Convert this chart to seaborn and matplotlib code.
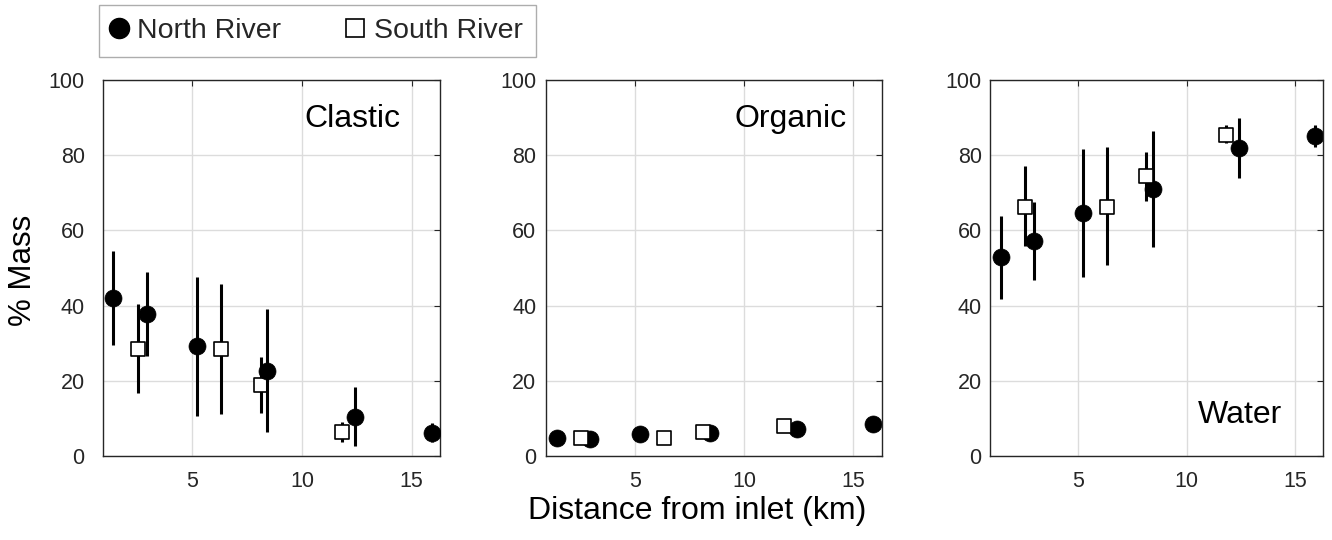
import numpy as np
import pandas as pd
import matplotlib
matplotlib.use("Agg")
import matplotlib.pyplot as plt
from matplotlib.lines import Line2D
import seaborn as sns

# ---------------- data ----------------
north_x = [1.42, 2.95, 5.23, 8.43, 12.42, 15.9]
south_x = [2.53, 6.32, 8.12, 11.82]

clastic_north = [41.9, 37.7, 29.3, 22.6, 10.5, 6.2]
clastic_north_lo = [29.5, 26.7, 10.6, 6.3, 2.7, 3.6]
clastic_north_hi = [54.5, 48.9, 47.7, 39.0, 18.3, 8.7]
clastic_south = [28.5, 28.4, 18.8, 6.3]
clastic_south_lo = [16.7, 11.1, 11.4, 3.6]
clastic_south_hi = [40.3, 45.7, 26.2, 9.1]

organic_north = [4.7, 4.6, 5.85, 6.0, 7.3, 8.5]
organic_south = [4.8, 4.9, 6.5, 8.0]

water_north = [52.8, 57.3, 64.7, 71.0, 82.0, 85.1]
water_north_lo = [41.8, 46.8, 47.7, 55.5, 74.0, 82.1]
water_north_hi = [63.9, 67.6, 81.7, 86.4, 89.8, 88.0]
water_south = [66.3, 66.3, 74.5, 85.5]
water_south_lo = [55.9, 50.8, 67.8, 83.2]
water_south_hi = [77.1, 82.1, 80.9, 88.0]

panel_names = ["Clastic", "Organic", "Water"]
series_names = ["North River", "South River"]
x_ticks = [5, 10, 15]
y_ticks = [0, 20, 40, 60, 80, 100]

# ---------------- style ----------------
sns.set_style("white")
plt.rcParams["font.family"] = ["Liberation Sans", "DejaVu Sans"]
TXT = "#262626"

fig = plt.figure(figsize=(13.32, 5.4), dpi=100)
W, H = 1332, 540

def rect(l, r, t=80, b=456):
    return [l / W, 1 - b / H, (r - l) / W, (b - t) / H]

rects = [rect(102.7, 440.3), rect(546, 881.7), rect(990, 1323.3)]
ypads = [13, 7, 6]

panels = [
    dict(n=clastic_north, nlo=clastic_north_lo, nhi=clastic_north_hi,
         s=clastic_south, slo=clastic_south_lo, shi=clastic_south_hi,
         north_on_top=True, label=(14.5, 87.5, "right")),
    dict(n=organic_north, nlo=None, nhi=None,
         s=organic_south, slo=None, shi=None,
         north_on_top=False, label=(14.69, 87.5, "right")),
    dict(n=water_north, nlo=water_north_lo, nhi=water_north_hi,
         s=water_south, slo=water_south_lo, shi=water_south_hi,
         north_on_top=False, label=(14.4, 8.7, "right")),
]

for i, (p, r) in enumerate(zip(panels, rects)):
    ax = fig.add_axes(r)
    zn = 4 if p["north_on_top"] else 2
    zs = 2 if p["north_on_top"] else 4
    dn = pd.DataFrame({"x": north_x, "y": p["n"]})
    ds = pd.DataFrame({"x": south_x, "y": p["s"]})
    if p["nlo"] is not None:
        ax.vlines(north_x, p["nlo"], p["nhi"], colors="black", lw=2.2, zorder=zn - 0.5)
        ax.vlines(south_x, p["slo"], p["shi"], colors="black", lw=2.2, zorder=zs - 0.5)
    sns.scatterplot(data=dn, x="x", y="y", ax=ax, marker="o", s=150,
                    color="black", edgecolor="black", linewidth=0.5, zorder=zn)
    sns.scatterplot(data=ds, x="x", y="y", ax=ax, marker="s", s=100,
                    color="white", edgecolor="black", linewidth=1.2, zorder=zs)
    ax.set_xlim(0.93, 16.3)
    ax.set_ylim(0, 100)
    ax.set_xticks(x_ticks)
    ax.set_yticks(y_ticks)
    ax.set_xlabel("")
    ax.set_ylabel("")
    ax.grid(True, color="#dcdcdc", lw=1.0)
    ax.set_axisbelow(True)
    for sp in ax.spines.values():
        sp.set_visible(True)
        sp.set_color(TXT)
        sp.set_linewidth(1.0)
    ax.tick_params(axis="both", direction="in", length=4, width=0.8, color=TXT,
                   labelsize=15.5, labelcolor=TXT, top=True, right=True)
    ax.tick_params(axis="x", pad=11)
    ax.tick_params(axis="y", pad=ypads[i])
    lx, ly, ha = p["label"]
    ax.text(lx, ly, panel_names[i], fontsize=23, ha=ha, va="baseline", color="black")

fig.text(23 / W, 1 - 270 / H, "% Mass", rotation=90, fontsize=22.5,
         ha="center", va="center", color="black")
fig.text(697.5 / W, 1 - 511 / H, "Distance from inlet (km)", fontsize=23,
         ha="center", va="center", color="black")

handles = [
    Line2D([], [], marker="o", ls="none", markersize=14.5, markerfacecolor="black",
           markeredgecolor="black"),
    Line2D([], [], marker="s", ls="none", markersize=13.5, markerfacecolor="white",
           markeredgecolor="black", markeredgewidth=1.2),
]
leg = fig.legend(handles, series_names, loc="upper left",
                 bbox_to_anchor=(99 / W, 1 - 5 / H), ncol=2, fontsize=20.5,
                 frameon=True, fancybox=False, edgecolor="#999999",
                 borderaxespad=0, borderpad=0.45, handlelength=0.5,
                 handletextpad=0.4, columnspacing=2.35)
leg.get_frame().set_linewidth(1.0)

fig.savefig("out.png", dpi=100)
